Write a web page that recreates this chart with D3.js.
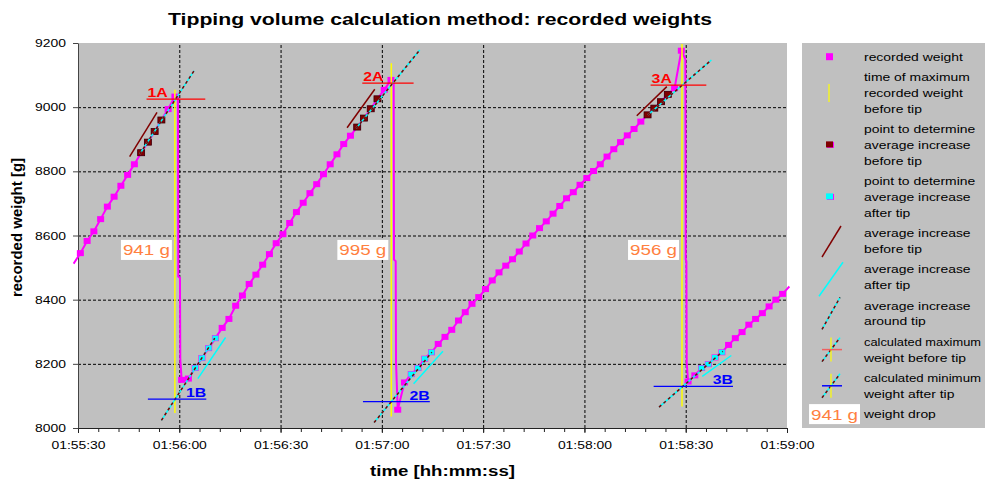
<!DOCTYPE html>
<html>
<head>
<meta charset="utf-8">
<script src="https://cdn.jsdelivr.net/npm/d3@7"></script>
<style>
  body { margin: 0; background: #fff; }
  text { font-family: "Liberation Sans", Arial, sans-serif; }
</style>
</head>
<body>
<div id="chart"></div>
<script>
// recorded weights, seconds after 01:55:30
var startTime = "01:55:30";
var recSeconds = [
  -1.3, 0.7, 2.7, 4.7, 6.7, 8.7, 10.7, 12.7, 14.7, 16.7, 18.7, 20.7, 22.7, 24.7, 26.7, 28.7,
  30.7, 32.7, 34.7, 36.7, 38.7, 40.7, 42.7, 44.7, 46.7, 48.7, 50.7, 52.7, 54.7, 56.7, 58.7, 60.7,
  62.7, 64.7, 66.7, 68.7, 70.7, 72.7, 74.7, 76.7, 78.7, 80.7, 82.7, 84.7, 86.7, 88.7, 90.7, 92.7,
  94.7, 96.7, 98.7, 100.7, 102.7, 104.7, 106.7, 108.7, 110.7, 112.7, 114.7, 116.7, 118.7, 120.7,
  122.7, 124.7, 126.7, 128.7, 130.7, 132.7, 134.7, 136.7, 138.7, 140.7, 142.7, 144.7, 146.7, 148.7,
  150.7, 152.7, 154.7, 156.7, 158.7, 160.7, 162.7, 164.7, 166.7, 168.7, 170.7, 172.7, 174.7, 176.7, 178.7,
  180.7, 182.7, 184.7, 186.7, 188.7, 190.7, 192.7, 194.7, 196.7, 198.7, 200.7, 202.7, 204.7, 206.7, 208.7, 210.7
];
var recWeights = [
  8512, 8545, 8583, 8613, 8651, 8690, 8721, 8755, 8789, 8822, 8858, 8891, 8924, 8960, 8994, 9033,
  8150, 8154, 8187, 8218, 8249, 8280, 8312, 8340, 8381, 8413, 8449, 8478, 8509, 8542, 8576, 8604,
  8639, 8673, 8702, 8732, 8760, 8791, 8822, 8853, 8885, 8911, 8938, 8966, 8995, 9026, 9054, 9085,
  8057, 8142, 8168, 8187, 8216, 8236, 8262, 8284, 8306, 8335, 8361, 8387, 8408, 8433,
  8460, 8485, 8506, 8526, 8550, 8575, 8600, 8623, 8644, 8668, 8692, 8716, 8735, 8758,
  8779, 8801, 8822, 8846, 8869, 8891, 8912, 8932, 8955, 8976, 8997, 9017, 9040, 9059, 9176,
  8145, 8164, 8187, 8199, 8220, 8236, 8259, 8280, 8299, 8322, 8340, 8358, 8379, 8400, 8418, 8441
];
// readings during the tip (no markers)
var tipSeconds = [29.6, 29.7, 30.2, 30.3, 93.5, 93.6, 94.1, 94.2, 179.9, 180.0, 180.2, 180.3];
var tipWeights = [9028, 8472, 8468, 8213, 9078, 8525, 8520, 8203, 9150, 8525, 8520, 8203];

var beforeSeconds = [18.7, 20.7, 22.7, 24.7, 82.7, 84.7, 86.7, 88.7, 168.7, 170.7, 172.7, 174.7];
var afterSeconds = [34.7, 36.7, 38.7, 40.7, 98.7, 100.7, 102.7, 104.7, 184.7, 186.7, 188.7, 190.7];

// [time, weight from, weight to]
var maxTimeLines = [[28.7, 8047, 9054], [92.8, 8036, 9137], [178.9, 8067, 9197]];
// [t1, w1, t2, w2]
var avgBefore = [[15.3, 8846, 23.4, 8984], [79.7, 8936, 87.9, 9056], [165.5, 8973, 174.4, 9064]];
var avgAfter = [[35.5, 8154, 43.7, 8282], [99.4, 8138, 108.1, 8239], [184.9, 8161, 193.5, 8226]];
var avgAround = [
  [18.3, 8854, 34.4, 9114], [24.7, 8024, 40.5, 8280],
  [82.4, 8934, 101.2, 9178], [87.7, 8017, 104.8, 8236],
  [168.8, 8976, 187.6, 9147], [172.1, 8065, 191.0, 8239]
];
// [t1, t2, weight]
var maxLines = [[20.3, 37.7, 9025], [84.2, 99.4, 9075], [169.6, 186.1, 9069]];
var minLines = [[20.7, 38.0, 8090], [84.4, 104.2, 8082], [170.5, 194.0, 8130]];
var maxLabels = ["1A", "2A", "3A"];
var minLabels = ["1B", "2B", "3B"];
var dropLabels = ["941 g", "995 g", "956 g"];
var dropLabelWeight = 8555;

var xTickLabels = ["01:55:30", "01:56:00", "01:56:30", "01:57:00", "01:57:30", "01:58:00", "01:58:30", "01:59:00"];
var yTicks = [8000, 8200, 8400, 8600, 8800, 9000, 9200];

var legendItems = [
  ["recorded weight"],
  ["time of maximum", "recorded weight", "before tip"],
  ["point to determine", "average increase", "before tip"],
  ["point to determine", "average increase", "after tip"],
  ["average increase", "before tip"],
  ["average increase", "after tip"],
  ["average increase", "around tip"],
  ["calculated maximum", "weight before tip"],
  ["calculated minimum", "weight after tip"],
  ["weight drop"]
];

var W = 985, H = 483;
var SX = 1.22; // text in the picture is a bit wide
var plot = { left: 78, right: 787, top: 43, bottom: 428 };

var MAGENTA = "#ff00ff", DARKRED = "#800000", CYAN = "#00ffff", YELLOW = "#ffff00",
    RED = "#ff0000", BLUE = "#0000ff", ORANGE = "#ff8040", GREY = "#c0c0c0";

var parseT = d3.timeParse("%H:%M:%S");
var t0 = parseT(startTime);
function at(s) { return new Date(t0.getTime() + s * 1000); }

var x = d3.scaleTime()
  .domain([parseT(xTickLabels[0]), parseT(xTickLabels[xTickLabels.length - 1])])
  .range([plot.left, plot.right]);
var y = d3.scaleLinear()
  .domain([yTicks[0], yTicks[yTicks.length - 1]])
  .range([plot.bottom, plot.top]);

var svg = d3.select("#chart").append("svg")
  .attr("width", W)
  .attr("height", H);

function addText(parent, px, py, str, size, anchor, weight, fill) {
  return parent.append("text")
    .attr("transform", "translate(" + px + "," + py + ") scale(" + SX + ",1)")
    .attr("text-anchor", anchor || "start")
    .attr("font-size", size)
    .attr("font-weight", weight || "normal")
    .attr("fill", fill || "#000")
    .text(str);
}

//title
addText(svg, 440, 25, "Tipping volume calculation method: recorded weights", 17.4, "middle", "bold");

//plot background
svg.append("rect")
  .attr("x", plot.left).attr("y", plot.top)
  .attr("width", plot.right - plot.left).attr("height", plot.bottom - plot.top)
  .attr("fill", GREY);

//grid
var xTicks = xTickLabels.map(parseT);
svg.append("g")
  .attr("class", "grid")
  .attr("transform", "translate(0," + plot.bottom + ")")
  .call(d3.axisBottom(x).tickValues(xTicks.slice(1, -1)).tickSize(-(plot.bottom - plot.top)).tickFormat(""))
  .call(g => g.select(".domain").remove())
  .selectAll("line").attr("stroke", "#000").attr("stroke-dasharray", "3,2");
svg.append("g")
  .attr("class", "grid")
  .attr("transform", "translate(" + plot.left + ",0)")
  .call(d3.axisLeft(y).tickValues(yTicks.slice(1, -1)).tickSize(-(plot.right - plot.left)).tickFormat(""))
  .call(g => g.select(".domain").remove())
  .selectAll("line").attr("stroke", "#000").attr("stroke-dasharray", "3,2");

//axes
var minorTicks = d3.timeSecond.every(6).range(xTicks[0], xTicks[xTicks.length - 1]);
svg.append("g")
  .attr("transform", "translate(0," + plot.bottom + ")")
  .call(d3.axisBottom(x).tickValues(minorTicks).tickSize(4).tickSizeOuter(0).tickFormat(""))
  .call(g => g.select(".domain").remove())
  .selectAll("line").attr("stroke", "#222");

var xAxis = svg.append("g")
  .attr("transform", "translate(0," + plot.bottom + ")")
  .call(d3.axisBottom(x).tickValues(xTicks).tickSize(5).tickSizeOuter(0).tickPadding(8)
    .tickFormat(d3.timeFormat("%H:%M:%S")));
xAxis.select(".domain").attr("stroke", "#222");
xAxis.selectAll("line").attr("stroke", "#222");
xAxis.selectAll("text")
  .attr("font-size", 11.4)
  .attr("font-family", "Liberation Sans, Arial, sans-serif")
  .attr("fill", "#000")
  .attr("transform", "scale(" + SX + ",1)");

var yAxis = svg.append("g")
  .attr("transform", "translate(" + plot.left + ",0)")
  .call(d3.axisLeft(y).tickValues(yTicks).tickSize(5).tickSizeOuter(0).tickFormat(d3.format("d")));
yAxis.select(".domain").attr("stroke", "#444");
yAxis.selectAll("line").attr("stroke", "#444");
yAxis.selectAll("text")
  .attr("font-size", 11.4)
  .attr("font-family", "Liberation Sans, Arial, sans-serif")
  .attr("fill", "#000")
  .attr("x", -12 / SX)
  .attr("transform", "scale(" + SX + ",1)");

//axis labels
addText(svg, (plot.left + plot.right) / 2 + 10, 476, "time [hh:mm:ss]", 15.3, "middle", "bold");
svg.append("text")
  .attr("transform", "translate(22," + ((plot.top + plot.bottom) / 2 - 8) + ") rotate(-90)")
  .attr("text-anchor", "middle")
  .attr("font-size", 15)
  .attr("font-weight", "bold")
  .text("recorded weight [g]");

//recorded weight line
svg.append("clipPath").attr("id", "clip")
  .append("rect")
  .attr("x", plot.left - 5).attr("y", plot.top - 2)
  .attr("width", plot.right - plot.left + 9).attr("height", plot.bottom - plot.top + 4);

var recData = recSeconds.map((s, i) => ({ s: s, w: recWeights[i] }));
var tipData = tipSeconds.map((s, i) => ({ s: s, w: tipWeights[i] }));
var allData = recData.concat(tipData).sort((a, b) => a.s - b.s);
var weightAt = {};
recData.forEach(d => { weightAt[d.s] = d.w; });

var line = d3.line()
  .x(d => x(at(d.s)))
  .y(d => y(d.w));

svg.append("path")
  .datum(allData)
  .attr("clip-path", "url(#clip)")
  .attr("fill", "none")
  .attr("stroke", MAGENTA)
  .attr("stroke-width", 2)
  .attr("d", line);

var inRange = recData.filter(d => at(d.s) >= x.domain()[0] && at(d.s) <= x.domain()[1]);
svg.append("g")
  .selectAll("rect")
  .data(inRange)
  .join("rect")
  .attr("x", d => x(at(d.s)) - 3.5)
  .attr("y", d => y(d.w) - 3)
  .attr("width", 7)
  .attr("height", 6)
  .attr("fill", MAGENTA);

//time of maximum
svg.append("g")
  .selectAll("line")
  .data(maxTimeLines)
  .join("line")
  .attr("x1", d => x(at(d[0]))).attr("x2", d => x(at(d[0])))
  .attr("y1", d => y(d[1])).attr("y2", d => y(d[2]))
  .attr("stroke", YELLOW)
  .attr("stroke-width", 1.5);

//points used for the averages
svg.append("g")
  .selectAll("rect")
  .data(beforeSeconds)
  .join("rect")
  .attr("x", d => x(at(d)) - 3.5)
  .attr("y", d => y(weightAt[d]) - 3)
  .attr("width", 7)
  .attr("height", 6)
  .attr("fill", DARKRED)
  .attr("stroke", "#3a0000")
  .attr("stroke-width", 0.8);

svg.append("g")
  .selectAll("rect")
  .data(afterSeconds)
  .join("rect")
  .attr("x", d => x(at(d)) - 3)
  .attr("y", d => y(weightAt[d]) - 2.5)
  .attr("width", 6)
  .attr("height", 5)
  .attr("fill", CYAN);

function segLines(data, color, width, dash) {
  return svg.append("g")
    .selectAll("line")
    .data(data)
    .join("line")
    .attr("x1", d => x(at(d[0]))).attr("y1", d => y(d[1]))
    .attr("x2", d => x(at(d[2]))).attr("y2", d => y(d[3]))
    .attr("stroke", color)
    .attr("stroke-width", width)
    .attr("stroke-dasharray", dash || null);
}

segLines(avgBefore, DARKRED, 1.5);
segLines(avgAfter, CYAN, 1.5);
segLines(avgAround, CYAN, 1.5);
segLines(avgAround, DARKRED, 1.5, "3,3");

//calculated max / min
svg.append("g")
  .selectAll("line")
  .data(maxLines)
  .join("line")
  .attr("x1", d => x(at(d[0]))).attr("x2", d => x(at(d[1])))
  .attr("y1", d => y(d[2])).attr("y2", d => y(d[2]))
  .attr("stroke", RED)
  .attr("stroke-width", 1.3);
svg.append("g")
  .selectAll("line")
  .data(minLines)
  .join("line")
  .attr("x1", d => x(at(d[0]))).attr("x2", d => x(at(d[1])))
  .attr("y1", d => y(d[2])).attr("y2", d => y(d[2]))
  .attr("stroke", BLUE)
  .attr("stroke-width", 1.3);

maxLines.forEach(function(d, i) {
  addText(svg, x(at(d[0])) + 1, y(d[2]) - 2, maxLabels[i], 13, "start", "bold", RED);
});
minLines.forEach(function(d, i) {
  addText(svg, x(at(d[1])), y(d[2]) - 2, minLabels[i], 13, "end", "bold", BLUE);
});

//weight drop boxes
function dropBox(parent, right, cy, str) {
  var g = parent.append("g");
  var box = g.append("rect").attr("fill", "#fff");
  var t = addText(g, 0, 0, str, 15.4, "middle", "normal", ORANGE);
  var tw = t.node().getComputedTextLength() * SX;
  var bw = tw + 4, bh = 20;
  box.attr("x", right - bw).attr("y", cy - bh / 2).attr("width", bw).attr("height", bh);
  t.attr("transform", "translate(" + (right - bw / 2) + "," + (cy + 5.5) + ") scale(" + SX + ",1)");
}
maxTimeLines.forEach(function(d, i) {
  dropBox(svg, x(at(d[0])) - 3, y(dropLabelWeight), dropLabels[i]);
});

//legend
var lg = svg.append("g");
lg.append("rect")
  .attr("x", 802).attr("y", plot.top)
  .attr("width", W - 802).attr("height", plot.bottom - plot.top)
  .attr("fill", GREY);

var lineH = 15.8, cy = 56.7, textX = 864, legendFont = 11.4;
var maxLen = (W - 4 - textX) / SX;
legendItems.forEach(function(lines, i) {
  var mid = cy + (lines.length - 1) * lineH / 2;
  lines.forEach(function(s, j) {
    var t = addText(lg, textX, cy + j * lineH + 4, s, legendFont, "start", "normal", "#000");
    var len = t.node().getComputedTextLength();
    if (len > maxLen) t.attr("font-size", legendFont * maxLen / len);
  });
  var ix = 830;
  if (i === 0) {
    lg.append("rect").attr("x", ix - 4).attr("y", mid - 3.5).attr("width", 7).attr("height", 7).attr("fill", MAGENTA);
  } else if (i === 1) {
    lg.append("line").attr("x1", ix - 1).attr("x2", ix - 1).attr("y1", mid - 9).attr("y2", mid + 9)
      .attr("stroke", YELLOW).attr("stroke-width", 1.2);
  } else if (i === 2) {
    lg.append("rect").attr("x", ix - 3).attr("y", mid - 3).attr("width", 7).attr("height", 6).attr("fill", MAGENTA);
    lg.append("rect").attr("x", ix - 4).attr("y", mid - 3.5).attr("width", 7).attr("height", 6).attr("fill", DARKRED);
  } else if (i === 3) {
    lg.append("rect").attr("x", ix - 3).attr("y", mid - 3).attr("width", 7).attr("height", 6).attr("fill", MAGENTA);
    lg.append("rect").attr("x", ix - 4).attr("y", mid - 3.5).attr("width", 7).attr("height", 6).attr("fill", CYAN);
  } else if (i === 4) {
    lg.append("line").attr("x1", ix - 8).attr("y1", mid + 16).attr("x2", ix + 11).attr("y2", mid - 15)
      .attr("stroke", DARKRED).attr("stroke-width", 1.5);
  } else if (i === 5) {
    lg.append("line").attr("x1", ix - 11).attr("y1", mid + 19).attr("x2", ix + 13).attr("y2", mid - 15)
      .attr("stroke", CYAN).attr("stroke-width", 1.5);
  } else if (i === 6 || i === 7 || i === 8) {
    var len = i === 6 ? 16 : 12;
    lg.append("line").attr("x1", ix - 8).attr("y1", mid + len).attr("x2", ix + 10).attr("y2", mid - len)
      .attr("stroke", CYAN).attr("stroke-width", 1.5);
    lg.append("line").attr("x1", ix - 8).attr("y1", mid + len).attr("x2", ix + 10).attr("y2", mid - len)
      .attr("stroke", DARKRED).attr("stroke-width", 1.5).attr("stroke-dasharray", "3,3");
    if (i > 6) {
      lg.append("line").attr("x1", ix + 1).attr("x2", ix + 1).attr("y1", mid - 12).attr("y2", mid + 12)
        .attr("stroke", YELLOW).attr("stroke-width", 1.2);
      lg.append("line").attr("x1", ix - 8).attr("x2", ix + 12).attr("y1", mid).attr("y2", mid)
        .attr("stroke", i === 7 ? "#f06060" : BLUE).attr("stroke-width", 1.5);
    }
  } else if (i === 9) {
    dropBox(lg, 860, mid, dropLabels[0]);
  }
  cy += lines.length * lineH + 4.6;
});
</script>
</body>
</html>
